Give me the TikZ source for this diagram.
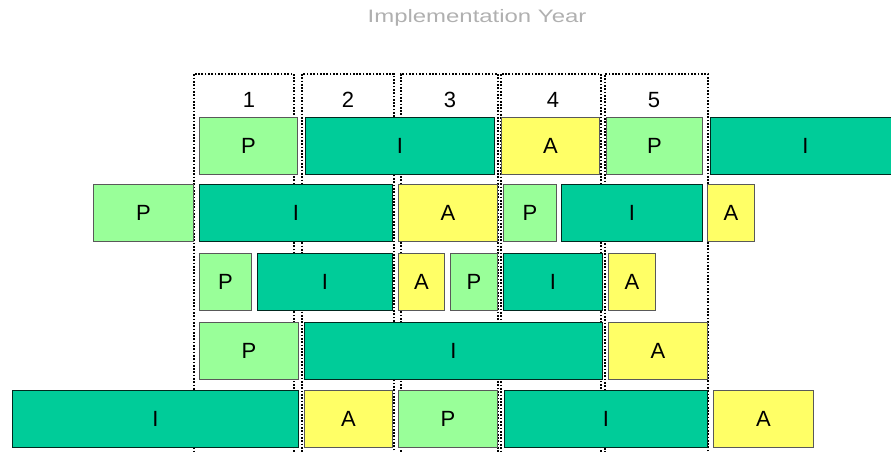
\documentclass[tikz,border=0pt]{standalone}
\usepackage{fontspec}
\setmainfont{Liberation Sans}
\newfontfamily\titlefont[FakeStretch=1.33]{Liberation Sans}
\definecolor{planfill}{HTML}{99FF99}
\definecolor{implfill}{HTML}{00CC99}
\definecolor{assessfill}{HTML}{FFFF66}
\definecolor{titlegray}{HTML}{B0B0B0}
\begin{document}
\begin{tikzpicture}[x=1pt,y=-1pt,
    	 font=\fontsize{22}{25}\selectfont]

    	 % style of the phase boxes
    	 \tikzstyle{phase}=[rectangle,anchor=north west,inner sep=0pt,minimum height=57pt,line width=0.9pt]
    	 \tikzstyle{pbox}=[phase,fill=planfill,draw=black!65]
    	 \tikzstyle{ibox}=[phase,fill=implfill,draw=black!80!implfill]
    	 \tikzstyle{abox}=[phase,fill=assessfill,draw=black!65]
    	 % style of the year columns
    	 \tikzstyle{yearcol}=[rectangle,anchor=north west,inner sep=0pt,minimum height=400pt,draw=black,line width=1.7pt,dash pattern=on 1.7pt off 1.6pt]

    	 \useasboundingbox (0,0) rectangle (891,452);

			\node [text=titlegray,font=\titlefont\fontsize{18}{21}\selectfont] (title) at (477,18) {Implementation Year};

			% year columns
			\foreach \n/\x/\w/\c in {1/193/100/249, 2/301/92/348, 3/400/97/450, 4/500/100/553, 5/604/103/654} {
				\node [yearcol,minimum width=\w pt] (col\n) at (\x,73) {};
				\node (year\n) at (\c,100) {\n};
			}

			% row 1
			\foreach \t/\s/\x/\w [count=\i] in {P/pbox/199/98, I/ibox/305/189, A/abox/501/98, P/pbox/606/96, I/ibox/710/190}
				\node [\s,minimum width=\w pt] (ra\i) at (\x,117) {\t};
			% row 2
			\foreach \t/\s/\x/\w [count=\i] in {P/pbox/93/100, I/ibox/199/193, A/abox/398/99, P/pbox/503/53, I/ibox/561/141, A/abox/707/47}
				\node [\s,minimum width=\w pt] (rb\i) at (\x,184) {\t};
			% row 3
			\foreach \t/\s/\x/\w [count=\i] in {P/pbox/199/52, I/ibox/257/135, A/abox/398/46, P/pbox/450/47, I/ibox/503/99, A/abox/608/47}
				\node [\s,minimum width=\w pt] (rc\i) at (\x,253) {\t};
			% row 4
			\foreach \t/\s/\x/\w [count=\i] in {P/pbox/199/99, I/ibox/304/298, A/abox/608/99}
				\node [\s,minimum width=\w pt] (rd\i) at (\x,322) {\t};
			% row 5
			\foreach \t/\s/\x/\w [count=\i] in {I/ibox/12/286, A/abox/304/88, P/pbox/398/99, I/ibox/504/203, A/abox/713/100}
				\node [\s,minimum width=\w pt] (re\i) at (\x,390) {\t};

		\end{tikzpicture}
\end{document}
